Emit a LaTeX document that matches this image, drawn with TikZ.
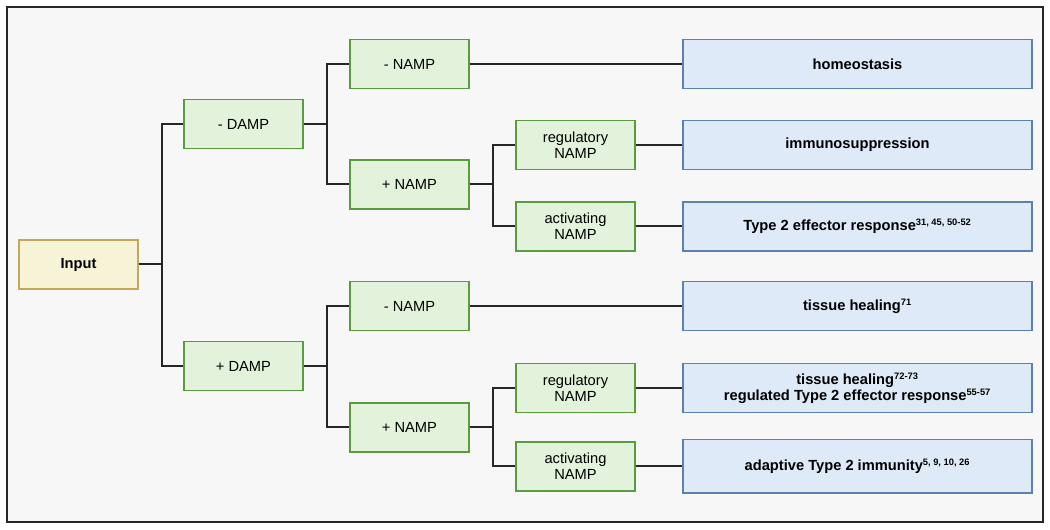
\documentclass[tikz,border=0pt]{standalone}
\usepackage{fontspec}
\setmainfont{Liberation Sans}
\usepackage{xcolor}
\usetikzlibrary{arrows.meta, positioning}
\definecolor{bgcol}{HTML}{F7F7F7}
\definecolor{greenfill}{HTML}{E3F3DB}
\definecolor{greenline}{HTML}{5B9B3F}
\definecolor{bluefill}{HTML}{DEEAF8}
\definecolor{blueline}{HTML}{5B80B2}
\definecolor{inputfill}{HTML}{F6F3D6}
\definecolor{inputline}{HTML}{C2A858}
\definecolor{wire}{HTML}{262626}

\begin{document}
\begin{tikzpicture}
[x=0.75pt, y=-0.75pt, line/.style={draw=wire, line width=1.5pt}, frame/.style={draw=wire, line width=1.3pt, fill=bgcol},
every node/.style={font=\fontsize{11}{12}\selectfont, align=center}]
% Define styles for the boxes
\tikzstyle{start} = [draw=inputline, fill=inputfill, rectangle, line width=1pt, minimum height=36.75pt, minimum width=89.25pt, font=\fontsize{11}{12}\selectfont\bfseries]
\tikzstyle{signal} = [draw=greenline, fill=greenfill, rectangle, line width=1pt, minimum height=36.75pt, minimum width=89.25pt]
\tikzstyle{outcome} = [draw=blueline, fill=bluefill, rectangle, line width=1pt, minimum height=36.75pt, minimum width=261.75pt, font=\fontsize{11}{12}\selectfont\bfseries]
\newcommand{\refs}[1]{\textsuperscript{\fontsize{7}{7}\selectfont #1}}

% Background and frame
\useasboundingbox (0,0) rectangle (1050,530);
\draw[frame] (7,7) rectangle (1043,522);

% Nodes placement
\node [start] (input) at (78.5,264.5) {Input};
\node [signal] (mdamp) at (243.5,124) {- DAMP};
\node [signal] (pdamp) at (243.5,366) {+ DAMP};

\node [signal] (mnamp1) at (409.5,64) {- NAMP};
\node [signal] (pnamp1) at (409.5,184.5) {+ NAMP};
\node [signal] (reg1) at (575.5,145) {regulatory\\NAMP};
\node [signal] (act1) at (575.5,226.5) {activating\\NAMP};

\node [signal] (mnamp2) at (409.5,306) {- NAMP};
\node [signal] (pnamp2) at (409.5,427.5) {+ NAMP};
\node [signal] (reg2) at (575.5,388) {regulatory\\NAMP};
\node [signal] (act2) at (575.5,466.5) {activating\\NAMP};

% Outcomes
\node [outcome, right of=mnamp1, node distance=336pt] (homeo) {homeostasis};
\node [outcome, right of=reg1, node distance=211.5pt] (suppr) {immunosuppression};
\node [outcome, right of=act1, node distance=211.5pt] (effect) {Type 2 effector response\refs{31, 45, 50-52}};
\node [outcome, right of=mnamp2, node distance=336pt] (heal) {tissue healing\refs{71}};
\node [outcome, right of=reg2, node distance=211.5pt] (regeff) {tissue healing\refs{72-73}\\regulated Type 2 effector response\refs{55-57}};
\node [outcome, right of=act2, node distance=211.5pt, minimum height=40pt] (adapt) {adaptive Type 2 immunity\refs{5, 9, 10, 26}};

% Draw edges
\draw[line] (input.east) -- ++(23,0) |- (mdamp.west);
\draw[line] (input.east) -- ++(23,0) |- (pdamp.west);

\draw[line] (mdamp.east) -- ++(23,0) |- (mnamp1.west);
\draw[line] (mdamp.east) -- ++(23,0) |- (pnamp1.west);
\draw[line] (pnamp1.east) -- ++(23,0) |- (reg1.west);
\draw[line] (pnamp1.east) -- ++(23,0) |- (act1.west);

\draw[line] (pdamp.east) -- ++(23,0) |- (mnamp2.west);
\draw[line] (pdamp.east) -- ++(23,0) |- (pnamp2.west);
\draw[line] (pnamp2.east) -- ++(23,0) |- (reg2.west);
\draw[line] (pnamp2.east) -- ++(23,0) |- (act2.west);

% Links to the outcomes
\draw[line] (mnamp1) -- (homeo);
\draw[line] (reg1) -- (suppr);
\draw[line] (act1) -- (effect);
\draw[line] (mnamp2) -- (heal);
\draw[line] (reg2) -- (regeff);
\draw[line] (act2) -- (adapt);
\end{tikzpicture}
\end{document}
